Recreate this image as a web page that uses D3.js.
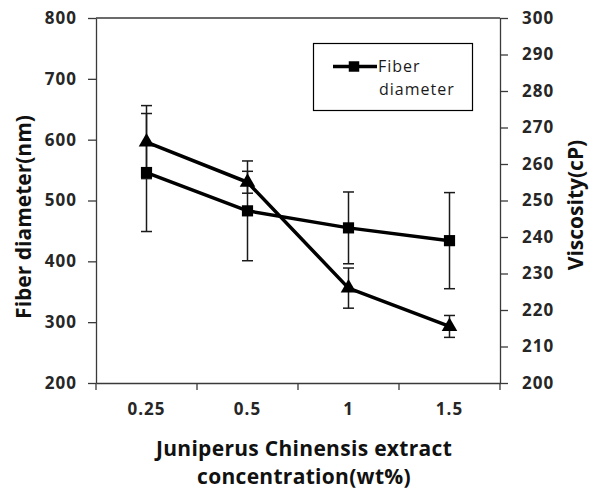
<!DOCTYPE html>
<html>
<head>
<meta charset="utf-8">
<script src="https://cdn.jsdelivr.net/npm/d3@7"></script>
<style>
  body { margin: 0; background: #fff; }
  svg { display: block; font-family: "Open Sans", sans-serif; }
</style>
</head>
<body>
<svg id="chart" width="591" height="491"></svg>
<script>
// data
const concentrations = ["0.25", "0.5", "1", "1.5"];
const fiberDiameter = [546, 483, 455, 434];
const fiberError = [97, 82, 59, 79];
const viscosity = [266, 255, 226, 215.5];
const viscosityError = [10, 3, 5.5, 3];
const leftTicks = [200, 300, 400, 500, 600, 700, 800];
const rightTicks = [200, 210, 220, 230, 240, 250, 260, 270, 280, 290, 300];

let chart = d3.select("#chart");

// plot box
const plotLeft = 96, plotRight = 500, plotTop = 18, plotBottom = 383;

// x position scale
let x = d3.scaleBand()
    .domain(concentrations)
    .range([plotLeft, plotRight]);
let cx = function (c) { return x(c) + x.bandwidth() / 2; };

// y scales (left = fiber diameter, right = viscosity)
let yL = d3.scaleLinear().domain([200, 800]).range([plotBottom, plotTop]);
let yR = d3.scaleLinear().domain([200, 300]).range([plotBottom, plotTop]);

const axisColor = "#3a3a3a";

// top frame line
chart.append("line")
    .attr("x1", plotLeft).attr("x2", plotRight)
    .attr("y1", plotTop).attr("y2", plotTop)
    .attr("stroke", axisColor).attr("stroke-width", 1.3);

// left axis
let yAxisL = d3.axisLeft(yL).tickValues(leftTicks).tickSize(8).tickSizeOuter(0).tickPadding(11);
let gL = chart.append("g")
    .attr("transform", "translate(" + plotLeft + ",0)")
    .call(yAxisL);

// right axis
let yAxisR = d3.axisRight(yR).tickValues(rightTicks).tickSize(8).tickSizeOuter(0).tickPadding(14);
let gR = chart.append("g")
    .attr("transform", "translate(" + plotRight + ",0)")
    .call(yAxisR);

// bottom axis: labels at centres, tick marks on band edges
let xAxis = d3.axisBottom(x).tickSize(0).tickSizeOuter(0);
let gX = chart.append("g")
    .attr("transform", "translate(0," + plotBottom + ")")
    .call(xAxis);
gX.selectAll(".tick text").attr("y", 32).attr("dy", null);
gX.selectAll("line.edge")
    .data(concentrations.map(function (c) { return x(c); }).concat([x.range()[1]]))
    .enter()
    .append("line")
    .attr("class", "edge")
    .attr("x1", function (d) { return d; })
    .attr("x2", function (d) { return d; })
    .attr("y1", 0).attr("y2", 7);

[gL, gR, gX].forEach(function (g) {
    g.selectAll("path.domain").attr("stroke", axisColor).attr("stroke-width", 1.3);
    g.selectAll("line").attr("stroke", axisColor).attr("stroke-width", 1.3);
    g.selectAll("text")
        .attr("fill", "#262626")
        .style("font-size", "17px")
        .style("font-weight", 700)
        .style("letter-spacing", "1px")
        .style("font-family", "'Open Sans', sans-serif");
});

// axis titles
chart.append("text")
    .text("Fiber diameter(nm)")
    .attr("transform", "translate(31,217) rotate(-90)")
    .attr("text-anchor", "middle")
    .attr("fill", "#111")
    .style("font-size", "21px")
    .style("font-weight", 700);

chart.append("text")
    .text("Viscosity(cP)")
    .attr("transform", "translate(583,205) rotate(-90)")
    .attr("text-anchor", "middle")
    .attr("fill", "#111")
    .style("font-size", "21px")
    .style("font-weight", 700);

chart.append("text")
    .text("Juniperus Chinensis extract")
    .attr("x", 304).attr("y", 456)
    .attr("text-anchor", "middle")
    .attr("fill", "#111")
    .style("font-size", "21px")
    .style("letter-spacing", "0.3px")
    .style("font-weight", 700);
chart.append("text")
    .text("concentration(wt%)")
    .attr("x", 304).attr("y", 484)
    .attr("text-anchor", "middle")
    .attr("fill", "#111")
    .style("font-size", "21px")
    .style("letter-spacing", "0.3px")
    .style("font-weight", 700);

// error bars
function errorBars(values, errors, y) {
    let g = chart.append("g")
        .attr("stroke", "#1a1a1a")
        .attr("stroke-width", 1.5);
    concentrations.forEach(function (c, i) {
        let px = cx(c);
        let y1 = y(values[i] + errors[i]);
        let y2 = y(values[i] - errors[i]);
        g.append("line").attr("x1", px).attr("x2", px).attr("y1", y1).attr("y2", y2);
        g.append("line").attr("x1", px - 5.5).attr("x2", px + 5.5).attr("y1", y1).attr("y2", y1);
        g.append("line").attr("x1", px - 5.5).attr("x2", px + 5.5).attr("y1", y2).attr("y2", y2);
    });
}
errorBars(fiberDiameter, fiberError, yL);
errorBars(viscosity, viscosityError, yR);

// lines
function seriesLine(values, y) {
    let line = d3.line()
        .x(function (d, i) { return cx(concentrations[i]); })
        .y(function (d) { return y(d); });
    chart.append("path")
        .datum(values)
        .attr("d", line)
        .attr("fill", "none")
        .attr("stroke", "#000")
        .attr("stroke-width", 3.5)
        .attr("stroke-linejoin", "round");
}
seriesLine(fiberDiameter, yL);
seriesLine(viscosity, yR);

// markers
chart.selectAll("path.sq")
    .data(fiberDiameter)
    .enter()
    .append("path")
    .attr("class", "sq")
    .attr("d", d3.symbol().type(d3.symbolSquare).size(125))
    .attr("transform", function (d, i) { return "translate(" + cx(concentrations[i]) + "," + yL(d) + ")"; })
    .attr("fill", "#000");

chart.selectAll("path.tri")
    .data(viscosity)
    .enter()
    .append("path")
    .attr("class", "tri")
    .attr("d", d3.symbol().type(d3.symbolTriangle).size(105))
    .attr("transform", function (d, i) { return "translate(" + cx(concentrations[i]) + "," + yR(d) + ")"; })
    .attr("fill", "#000");

// legend
let legend = chart.append("g");
legend.append("rect")
    .attr("x", 313.5).attr("y", 43.5)
    .attr("width", 159).attr("height", 67)
    .attr("fill", "#fff")
    .attr("stroke", "#000")
    .attr("stroke-width", 1.2);
legend.append("line")
    .attr("x1", 333).attr("x2", 377)
    .attr("y1", 66.5).attr("y2", 66.5)
    .attr("stroke", "#000").attr("stroke-width", 3.5);
legend.append("path")
    .attr("d", d3.symbol().type(d3.symbolSquare).size(110))
    .attr("transform", "translate(354,66.5)")
    .attr("fill", "#000");
legend.append("text")
    .text("Fiber")
    .attr("x", 378).attr("y", 72)
    .attr("fill", "#1a1a1a")
    .style("font-size", "16px")
    .style("letter-spacing", "1px");
legend.append("text")
    .text("diameter")
    .attr("x", 379).attr("y", 95)
    .attr("fill", "#1a1a1a")
    .style("font-size", "16px")
    .style("letter-spacing", "1px");
</script>
</body>
</html>
